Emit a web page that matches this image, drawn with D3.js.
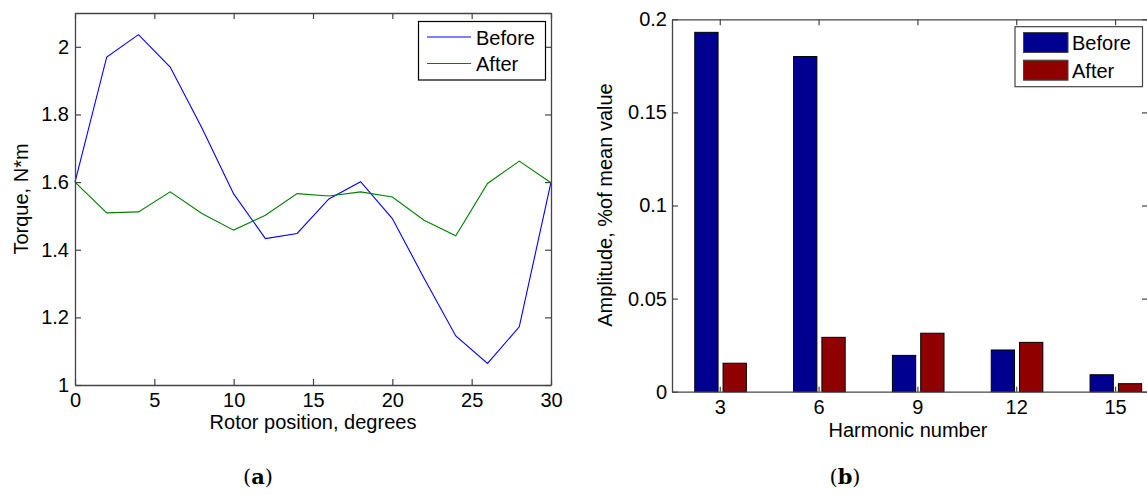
<!DOCTYPE html>
<html>
<head>
<meta charset="utf-8">
<script src="https://cdn.jsdelivr.net/npm/d3@7"></script>
<style>
body { margin: 0; background: #fff; }
</style>
</head>
<body>
<svg id="mysvg" width="1147" height="495" font-family="Liberation Sans, Arial, sans-serif"></svg>
<script>

// (a) torque vs rotor position
var rotorPos = [0, 2, 4, 6, 8, 10, 12, 14, 16, 18, 20, 22, 24, 26, 28, 30];
var torqueBefore = [1.60, 1.97, 2.036, 1.94, 1.76, 1.565, 1.433, 1.448, 1.55, 1.601, 1.492, 1.316, 1.145, 1.064, 1.172, 1.60];
var torqueAfter = [1.60, 1.509, 1.512, 1.571, 1.507, 1.458, 1.502, 1.566, 1.559, 1.571, 1.556, 1.487, 1.441, 1.596, 1.662, 1.598];
var torqueTicksX = [0, 5, 10, 15, 20, 25, 30];
var torqueTicksY = [1, 1.2, 1.4, 1.6, 1.8, 2];

// (b) harmonic amplitudes
var harmonics = [3, 6, 9, 12, 15];
var ampBefore = [0.193, 0.180, 0.0195, 0.0224, 0.0091];
var ampAfter = [0.0153, 0.0292, 0.0314, 0.0265, 0.0043];
var ampTicks = [0, 0.05, 0.1, 0.15, 0.2];
var ampTickLabels = ["0", "0.05", "0.1", "0.15", "0.2"];

var seriesNames = ["Before", "After"];

var svg = d3.select("#mysvg");
var axisColor = "#444";

function styleAxis(g) {
	g.selectAll("path").attr("stroke", axisColor).attr("stroke-width", 1.3);
	g.selectAll("line").attr("stroke", axisColor).attr("stroke-width", 1.2);
	g.selectAll("text").attr("font-size", 20).attr("fill", "#000")
		.attr("font-family", "Liberation Sans, Arial, sans-serif");
}

// ---------- chart a ----------
var xa = d3.scaleLinear().domain([0, 30]).range([75, 551]);
var ya = d3.scaleLinear().domain([1, 2.1]).range([385, 13]);

var groupA = svg.append("g");

var line = d3.line()
	.x(function (d, i) { return xa(rotorPos[i]); })
	.y(function (d) { return ya(d); });

groupA.append("path").datum(torqueBefore)
	.attr("d", line)
	.attr("fill", "none")
	.attr("stroke", "#0000ff")
	.attr("stroke-width", 1.1);

groupA.append("path").datum(torqueAfter)
	.attr("d", line)
	.attr("fill", "none")
	.attr("stroke", "#008000")
	.attr("stroke-width", 1.1);

groupA.append("g").attr("transform", "translate(0,385)")
	.call(d3.axisBottom(xa).tickValues(torqueTicksX).tickSize(-6).tickSizeOuter(0).tickPadding(8))
	.call(styleAxis);
groupA.append("g").attr("transform", "translate(0,13)")
	.call(d3.axisTop(xa).tickValues(torqueTicksX).tickSize(-6).tickSizeOuter(0).tickFormat(""))
	.call(styleAxis);
groupA.append("g").attr("transform", "translate(75,0)")
	.call(d3.axisLeft(ya).tickValues(torqueTicksY).tickSize(-6).tickSizeOuter(0).tickPadding(6).tickFormat(d3.format("")))
	.call(styleAxis);
groupA.append("g").attr("transform", "translate(551,0)")
	.call(d3.axisRight(ya).tickValues(torqueTicksY).tickSize(-6).tickSizeOuter(0).tickFormat(""))
	.call(styleAxis);

groupA.append("text")
	.attr("x", 313).attr("y", 429)
	.attr("text-anchor", "middle")
	.attr("font-size", 20)
	.text("Rotor position, degrees");

groupA.append("text")
	.attr("transform", "translate(28,199) rotate(-90)")
	.attr("text-anchor", "middle")
	.attr("font-size", 20)
	.text("Torque, N*m");

// legend a
var legA = groupA.append("g");
legA.append("rect")
	.attr("x", 418.5).attr("y", 21.5)
	.attr("width", 127).attr("height", 58.5)
	.attr("fill", "#fff")
	.attr("stroke", "#000")
	.attr("stroke-width", 1.2);
var legAColors = ["#0000ff", "#008000"];
seriesNames.forEach(function (name, i) {
	legA.append("line")
		.attr("x1", 427).attr("x2", 471)
		.attr("y1", 37 + i * 26.5).attr("y2", 37 + i * 26.5)
		.attr("stroke", legAColors[i])
		.attr("stroke-width", 1.1);
	legA.append("text")
		.attr("x", 476).attr("y", 44.5 + i * 26.5)
		.attr("font-size", 20)
		.text(name);
});

// ---------- chart b ----------
var xb = d3.scaleLinear().domain([1.55, 16]).range([672, 1148]);
var yb = d3.scaleLinear().domain([0, 0.2]).range([391.7, 19.3]);
var xSub = d3.scaleBand().domain(seriesNames).range([-25, 26.6]).paddingInner(0.177);
var barColors = { Before: "#000090", After: "#900000" };
var ampData = { Before: ampBefore, After: ampAfter };

var groupB = svg.append("g");

seriesNames.forEach(function (name) {
	groupB.selectAll("rect.bar" + name)
		.data(ampData[name])
		.enter().append("rect")
		.attr("class", "bar" + name)
		.attr("x", function (d, i) { return xb(harmonics[i]) + xSub(name); })
		.attr("y", function (d) { return yb(d); })
		.attr("width", xSub.bandwidth())
		.attr("height", function (d) { return yb(0) - yb(d); })
		.attr("fill", barColors[name])
		.attr("stroke", "#000")
		.attr("stroke-width", 1);
});

groupB.append("g").attr("transform", "translate(0,391.7)")
	.call(d3.axisBottom(xb).tickValues(harmonics).tickSize(-5).tickSizeOuter(0).tickPadding(8))
	.call(styleAxis);
groupB.append("g").attr("transform", "translate(0,19.3)")
	.call(d3.axisTop(xb).tickValues(harmonics).tickSize(-6).tickSizeOuter(0).tickFormat(""))
	.call(styleAxis);
groupB.append("g").attr("transform", "translate(672,0)")
	.call(d3.axisLeft(yb).tickValues(ampTicks).tickSize(-6).tickSizeOuter(0).tickPadding(5)
		.tickFormat(function (d, i) { return ampTickLabels[i]; }))
	.call(styleAxis);
groupB.append("g").attr("transform", "translate(1148,0)")
	.call(d3.axisRight(yb).tickValues(ampTicks).tickSize(-6).tickSizeOuter(0).tickFormat(""))
	.call(styleAxis);

groupB.append("text")
	.attr("x", 908).attr("y", 437)
	.attr("text-anchor", "middle")
	.attr("font-size", 20)
	.text("Harmonic number");

groupB.append("text")
	.attr("transform", "translate(612,205) rotate(-90)")
	.attr("text-anchor", "middle")
	.attr("font-size", 20)
	.text("Amplitude, %of mean value");

// legend b
var legB = groupB.append("g");
legB.append("rect")
	.attr("x", 1015).attr("y", 26.7)
	.attr("width", 127.5).attr("height", 60)
	.attr("fill", "#fff")
	.attr("stroke", "#444")
	.attr("stroke-width", 1.2);
seriesNames.forEach(function (name, i) {
	legB.append("rect")
		.attr("x", 1023.5).attr("y", 32.5 + i * 27.7)
		.attr("width", 44.5).attr("height", 20)
		.attr("fill", barColors[name])
		.attr("stroke", "#444")
		.attr("stroke-width", 1);
	legB.append("text")
		.attr("x", 1072).attr("y", 50 + i * 27.7)
		.attr("font-size", 20)
		.text(name);
});

// captions
svg.append("text")
	.attr("x", 258).attr("y", 484)
	.attr("text-anchor", "middle")
	.style("font-family", "'DejaVu Serif', 'Liberation Serif', serif")
	.attr("font-size", 21)
	.html("(<tspan font-weight='bold'>a</tspan>)");

svg.append("text")
	.attr("x", 845).attr("y", 484)
	.attr("text-anchor", "middle")
	.style("font-family", "'DejaVu Serif', 'Liberation Serif', serif")
	.attr("font-size", 21)
	.html("(<tspan font-weight='bold'>b</tspan>)");

</script>
</body>
</html>
